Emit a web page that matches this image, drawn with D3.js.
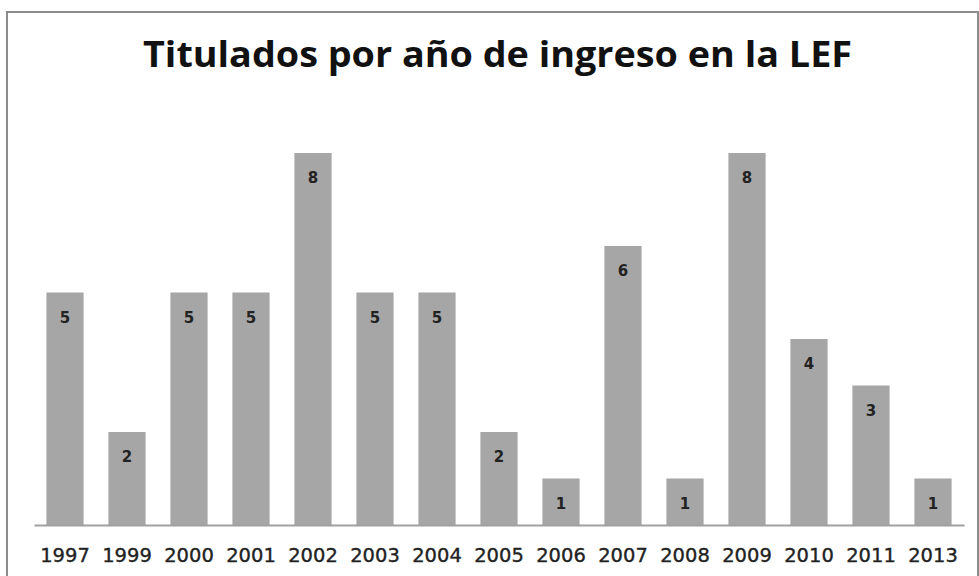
<!DOCTYPE html>
<html>
<head>
<meta charset="utf-8">
<script src="https://cdn.jsdelivr.net/npm/d3@7"></script>
<style>
  html, body { margin: 0; padding: 0; background: #fff; }
  svg { display: block; }
</style>
</head>
<body>
<figure id="chart" style="margin:0"></figure>
<script>
const years = ["1997", "1999", "2000", "2001", "2002", "2003", "2004", "2005",
  "2006", "2007", "2008", "2009", "2010", "2011", "2013"];
const titulados = [5, 2, 5, 5, 8, 5, 5, 2, 1, 6, 1, 8, 4, 3, 1];
const chartTitle = "Titulados por año de ingreso en la LEF";

const width = 979;
const height = 576;

const svg = d3.select("figure#chart")
  .append("svg")
  .attr("width", width)
  .attr("height", height);

// outer frame of the chart area
svg.append("rect")
  .attr("x", 7)
  .attr("y", 12)
  .attr("width", 971)
  .attr("height", 600)
  .attr("fill", "#fff")
  .attr("stroke", "#8c8c8c")
  .attr("stroke-width", 2);

svg.append("text")
  .attr("x", 143)
  .attr("y", 67)
  .attr("textLength", 709)
  .attr("lengthAdjust", "spacingAndGlyphs")
  .style("font-family", "'Open Sans', sans-serif")
  .style("font-weight", "bold")
  .style("font-size", "36px")
  .style("fill", "#111")
  .text(chartTitle);

const x = d3.scaleBand()
  .domain(years)
  .range([34, 964])
  .paddingInner(0.4)
  .paddingOuter(0.2);

const y = d3.scaleLinear()
  .domain([0, 9])
  .range([525, 106.5]);

const data = years.map((yr, i) => ({ year: yr, value: titulados[i] }));

svg.selectAll("rect.bar")
  .data(data)
  .enter()
  .append("rect")
  .attr("class", "bar")
  .attr("x", d => x(d.year))
  .attr("y", d => y(d.value))
  .attr("width", x.bandwidth())
  .attr("height", d => y(0) - y(d.value))
  .attr("fill", "#a6a6a6");

// value labels inside the top of each bar
svg.selectAll("text.val")
  .data(data)
  .enter()
  .append("text")
  .attr("class", "val")
  .attr("x", d => x(d.year) + x.bandwidth() / 2)
  .attr("y", d => y(d.value) + 30)
  .attr("text-anchor", "middle")
  .style("font-family", "'DejaVu Sans', sans-serif")
  .style("font-weight", "bold")
  .style("font-size", "15px")
  .style("fill", "#222")
  .text(d => d.value);

const xAxis = svg.append("g")
  .attr("transform", "translate(0," + y(0) + ")")
  .call(d3.axisBottom(x).tickSize(0).tickSizeOuter(0).tickPadding(23));

xAxis.select(".domain")
  .attr("stroke", "#a0a0a0")
  .attr("stroke-width", 2);

xAxis.selectAll("text")
  .style("font-family", "'DejaVu Sans', sans-serif")
  .style("font-size", "19.5px")
  .style("fill", "#222")
  .style("stroke", "#222")
  .style("stroke-width", 0.35);
</script>
</body>
</html>
